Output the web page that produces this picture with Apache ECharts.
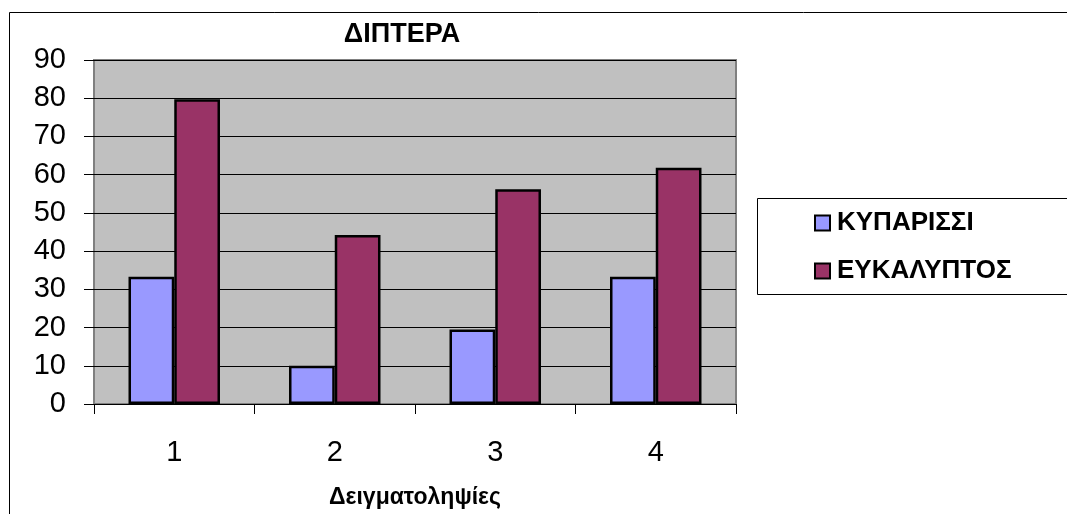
<!DOCTYPE html>
<html>
<head>
<meta charset="utf-8">
<script src="https://cdn.jsdelivr.net/npm/echarts@6/dist/echarts.min.js"></script>
<style>
  html, body { margin: 0; padding: 0; background: #fff; }
  #chart { width: 1067px; height: 514px; }
</style>
</head>
<body>
<div id="chart"></div>
<script>
// Sampling rounds and counts of Diptera per tree type
const categories = ['1', '2', '3', '4'];
const cypressValues = [33.3, 10, 19.5, 33.3];
const eucalyptusValues = [79.7, 44.2, 56.2, 61.8];
const seriesNames = ['ΚΥΠΑΡΙΣΣΙ', 'ΕΥΚΑΛΥΠΤΟΣ'];
const chartTitle = 'ΔΙΠΤΕΡΑ';
const xAxisTitle = 'Δειγματοληψίες';

const FONT = '"Liberation Sans", Arial, sans-serif';

const chart = echarts.init(document.getElementById('chart'), null, { renderer: 'canvas' });

chart.setOption({
  animation: false,
  backgroundColor: '#ffffff',
  title: {
    text: chartTitle,
    left: 402,
    top: 21,
    textAlign: 'center',
    padding: 0,
    textStyle: { fontFamily: FONT, fontWeight: 'bold', fontSize: 27, color: '#000' }
  },
  legend: {
    orient: 'vertical',
    left: 814,
    top: 210,
    padding: 0,
    itemWidth: 15,
    itemHeight: 15,
    itemGap: 22,
    icon: 'rect',
    textStyle: { fontFamily: FONT, fontWeight: 'bold', fontSize: 26, color: '#000', padding: [0, 0, 0, 2] },
    data: seriesNames
  },
  graphic: [
    {
      // outer chart frame
      type: 'rect', silent: true, z: -1,
      shape: { x: 9.5, y: 12.5, width: 1200, height: 700 },
      style: { fill: 'none', stroke: '#000', lineWidth: 1 }
    },
    {
      // legend frame
      type: 'rect', silent: true, z: -1,
      shape: { x: 757.5, y: 198.5, width: 400, height: 96 },
      style: { fill: '#fff', stroke: '#000', lineWidth: 1 }
    }
  ],
  grid: {
    left: 94, right: 331, top: 60, bottom: 110,
    outerBoundsMode: 'none',
    containLabel: false,
    show: true,
    backgroundColor: '#C0C0C0',
    borderColor: '#808080',
    borderWidth: 2
  },
  xAxis: {
    type: 'category',
    data: categories,
    name: xAxisTitle,
    nameLocation: 'middle',
    nameGap: 82,
    nameTextStyle: { fontFamily: FONT, fontWeight: 'bold', fontSize: 23, color: '#000' },
    axisLine: { show: true, lineStyle: { color: '#000', width: 1 } },
    axisTick: { show: true, length: 10, lineStyle: { color: '#000' } },
    axisLabel: { fontFamily: FONT, fontSize: 29, color: '#000', margin: 34 },
    splitLine: { show: false }
  },
  yAxis: {
    type: 'value',
    min: 0, max: 90, interval: 10,
    axisLine: { show: false },
    axisTick: { show: true, length: 10, lineStyle: { color: '#000' } },
    axisLabel: { fontFamily: FONT, fontSize: 29, color: '#000', margin: 28 },
    splitLine: { show: true, lineStyle: { color: '#000', width: 1 } }
  },
  series: [
    {
      name: seriesNames[0],
      type: 'bar',
      data: cypressValues,
      barGap: '0%',
      barCategoryGap: '43%',
      itemStyle: { color: '#9999FF', borderColor: '#000', borderWidth: 2.5 }
    },
    {
      name: seriesNames[1],
      type: 'bar',
      data: eucalyptusValues,
      barGap: '0%',
      barCategoryGap: '43%',
      itemStyle: { color: '#993366', borderColor: '#000', borderWidth: 2.5 }
    }
  ]
});
</script>
</body>
</html>
